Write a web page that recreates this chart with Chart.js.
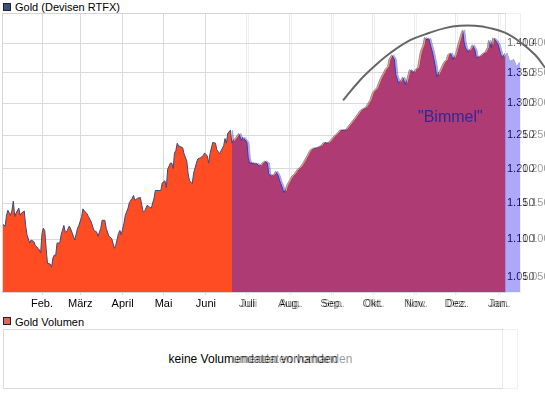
<!DOCTYPE html>
<html>
<head>
<meta charset="utf-8">
<script src="https://cdn.jsdelivr.net/npm/chart.js@4.4.1/dist/chart.umd.min.js"></script>
<style>
  html, body { margin: 0; padding: 0; background: #fff; }
  body { width: 545px; height: 398px; overflow: hidden; position: relative;
         font-family: "Liberation Sans", Arial, sans-serif; color: #000; }
  .layer { position: absolute; left: 0; top: 0; width: 545px; height: 398px; }
  .layer canvas { position: absolute; left: 0; top: 0; }
  .sq { position: absolute; left: 3px; width: 8px; height: 8px; box-sizing: border-box; border: 1px solid #222; }
  .lbl { position: absolute; left: 15px; font-size: 11px; line-height: 12px; white-space: nowrap; }
  .volbox { position: absolute; left: 3px; top: 329px; width: 500px; height: 60px; box-sizing: border-box;
            border: 1px solid #dcdcdc; font-size: 12px; line-height: 58px; text-align: center; }
  #overlay { left: 15px; background: #fff; opacity: 0.4; clip-path: inset(0 0 0 217px); }
  #notes { pointer-events: none; }
</style>
</head>
<body>
<div class="layer" id="main">
  <span class="sq" style="top:3px;background:#3f4f80"></span>
  <span class="lbl" style="top:1px">Gold (Devisen RTFX)</span>
  <canvas id="priceChart" width="545" height="312"></canvas>
  <span class="sq" style="top:317px;background:#e0665a"></span>
  <span class="lbl" style="top:316px">Gold Volumen</span>
  <div class="volbox">keine Volumendaten vorhanden</div>
</div>
<div class="layer" id="overlay">
  <canvas id="overlayChart" width="545" height="312"></canvas>
  <div class="volbox">keine Volumendaten vorhanden</div>
</div>
<div class="layer" id="notes">
  <canvas id="notesChart" width="545" height="312"></canvas>
</div>
<script>
// days counted from 1 Jan 2010, gold price in USD
const days = [2,4,5,6,8,9,10,11,12,14,15,16,18,19,20,22,23,25,26,28,29,30,31,32,33,34,35,37,38,39,
  40,41,42,44,45,47,48,49,51,52,54,55,57,58,60,61,62,64,65,67,69,71,72,74,75,77,78,80,82,84,
  85,87,88,89,91,92,94,95,97,98,99,101,103,105,106,108,110,111,113,114,116,118,119,121,122,123,125,126,127,128,
  129,130,131,134,135,137,138,139,141,142,144,145,147,149,150,152,153,154,156,158,159,161,163,164,165,166,167,169,170,171,
  173,175,177,178,181,182,183,186,187,188,190,192,194,196,197,199,201,202,204,205,207,208,209,210,212,214,216,218,220,222,
  225,227,229,232,235,237,240,242,244,247,249,251,253,257,260,264,268,271,273,276,279,281,282,284,285,287,289,290,292,293,
  295,297,298,300,303,304,306,308,310,311,313,314,317,319,320,322,325,327,328,330,332,334,335,338,339,340,341,343,345,346,
  348,349,351,354,355,357,358,360,361,363,365,367,368,370,372,375,377,379,380];
const prices = [1121,1118,1133,1140,1133,1140,1153,1131,1136,1143,1133,1136,1139,1119,1106,1095,1099,1097,1092,1088,1086,1082,1108,1115,1112,1088,1068,1067,1063,1075,
  1079,1078,1095,1095,1106,1119,1110,1110,1118,1114,1104,1099,1115,1119,1131,1142,1139,1135,1131,1124,1112,1110,1104,1115,1126,1126,1115,1104,1101,1088,
  1092,1108,1112,1106,1122,1133,1143,1151,1157,1161,1154,1157,1158,1138,1138,1147,1144,1143,1157,1168,1168,1168,1179,1182,1172,1199,1208,1208,1200,1223,
  1227,1238,1234,1231,1222,1211,1192,1182,1178,1193,1208,1214,1216,1219,1223,1219,1208,1222,1239,1238,1228,1222,1230,1234,1245,1238,1253,1258,1238,1242,
  1247,1253,1242,1247,1239,1216,1208,1208,1206,1208,1203,1208,1211,1208,1192,1189,1192,1196,1189,1182,1172,1165,1168,1175,1182,1189,1193,1199,1202,1208,
  1219,1227,1230,1231,1234,1239,1238,1242,1247,1253,1258,1258,1258,1269,1277,1289,1294,1305,1318,1325,1342,1350,1355,1360,1372,1380,1372,1347,1333,1335,
  1343,1330,1338,1355,1350,1355,1358,1385,1397,1410,1405,1409,1383,1360,1343,1352,1367,1372,1380,1383,1372,1383,1393,1418,1423,1402,1392,1385,1392,1397,
  1388,1375,1377,1383,1383,1392,1405,1392,1409,1405,1397,1380,1375,1383,1369,1372,1360,1367,1363];

const monthStarts = [31, 59, 90, 120, 151, 181, 212, 243, 273, 304, 334, 365];
const monthLabels = ['Feb.', 'März', 'April', 'Mai', 'Juni', 'Juli', 'Aug.', 'Sep.', 'Okt.', 'Nov.', 'Dez.', 'Jan.'];
const priceTicks = [1050, 1100, 1150, 1200, 1250, 1300, 1350, 1400];

// hand drawn "Bimmel" arc
const arcDays = [251.5, 264, 275, 286, 300.6, 315, 326, 337, 348, 359, 370, 381, 392, 399.5];
const arcPrices = [1305, 1338, 1362, 1383, 1405, 1418, 1426, 1430, 1430, 1426, 1418, 1402, 1380, 1358];
const noteText = '"Bimmel"';
const noteAt = [330, 1277];

const FONT = '"Liberation Sans", Arial, sans-serif';
const yMin = 1031, yMax = 1451;

const framePlugin = {
  id: 'frame',
  beforeDatasetsDraw(chart) {
    const a = chart.chartArea, ctx = chart.ctx;
    ctx.save();
    ctx.strokeStyle = '#d6d6d6';
    ctx.lineWidth = 1;
    ctx.strokeRect(a.left - 0.5, a.top - 0.5, a.right - a.left + 1, a.bottom - a.top + 1);
    ctx.restore();
  }
};

function priceChart(id, o) {
  return new Chart(document.getElementById(id), {
    type: 'line',
    data: {
      datasets: [{
        data: days.map((d, i) => ({ x: d, y: prices[i] })),
        fill: 'start',
        backgroundColor: o.fill,
        borderColor: o.line,
        borderWidth: 1,
        pointRadius: 0,
        tension: 0
      }]
    },
    options: {
      responsive: false,
      animation: false,
      devicePixelRatio: 1,
      layout: { padding: { left: 3, top: 14, right: 0, bottom: 0 } },
      plugins: { legend: { display: false }, tooltip: { enabled: false } },
      scales: {
        x: {
          type: 'linear', min: o.xMin, max: o.xMax,
          afterBuildTicks: s => { s.ticks = monthStarts.map(v => ({ value: v })); },
          afterFit: s => { s.height = 20; },
          grid: { color: '#dadada', tickLength: 3 },
          border: { display: false },
          ticks: {
            autoSkip: false, maxRotation: 0, padding: 2, color: '#000',
            font: { family: FONT, size: 11 },
            callback: v => monthLabels[monthStarts.indexOf(v)]
          }
        },
        y: {
          type: 'logarithmic', position: 'right', min: yMin, max: yMax,
          afterBuildTicks: s => { s.ticks = priceTicks.map(v => ({ value: v })); },
          afterFit: s => { s.width = 40; },
          grid: { color: '#dadada', drawTicks: false },
          border: { display: false },
          ticks: {
            padding: 2, color: '#000',
            font: { family: FONT, size: 11 },
            callback: v => '1.' + String(v).slice(1)
          }
        }
      }
    },
    plugins: [framePlugin]
  });
}

// main chart and the later snapshot laid over it
priceChart('priceChart', { fill: '#ff4c23', line: '#3b4a78', xMin: 2.43, xMax: 370 });
priceChart('overlayChart', { fill: '#3925ed', line: '#2020a0', xMin: 11.95, xMax: 379.5 });

const notePlugin = {
  id: 'note',
  afterDatasetsDraw(chart) {
    const ctx = chart.ctx;
    ctx.save();
    ctx.font = '16px ' + FONT;
    ctx.fillStyle = '#2b2b96';
    ctx.textAlign = 'center';
    ctx.textBaseline = 'middle';
    ctx.fillText(noteText, chart.scales.x.getPixelForValue(noteAt[0]), chart.scales.y.getPixelForValue(noteAt[1]));
    ctx.restore();
  }
};

// same scale mapping as the price chart, but the area runs to the canvas edge
new Chart(document.getElementById('notesChart'), {
  type: 'line',
  data: {
    datasets: [{
      data: arcDays.map((d, i) => ({ x: d, y: arcPrices[i] })),
      borderColor: '#666666',
      borderWidth: 2,
      pointRadius: 0,
      tension: 0.4,
      fill: false,
      clip: false
    }]
  },
  options: {
    responsive: false,
    animation: false,
    devicePixelRatio: 1,
    layout: { padding: { left: 3, top: 14, right: 0, bottom: 20 } },
    plugins: { legend: { display: false }, tooltip: { enabled: false } },
    scales: {
      x: { type: 'linear', min: 2.43, max: 399.3, display: false },
      y: { type: 'logarithmic', min: yMin, max: yMax, display: false }
    }
  },
  plugins: [notePlugin]
});
</script>
</body>
</html>
